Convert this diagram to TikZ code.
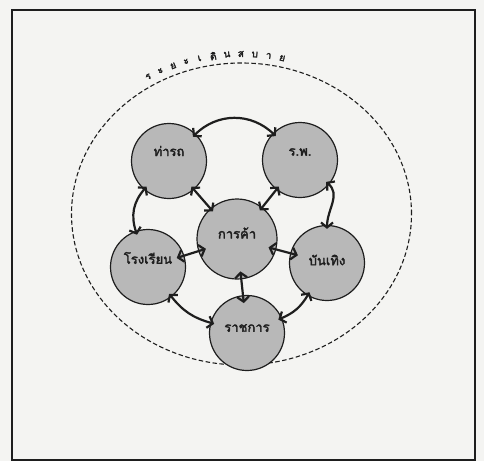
\documentclass[tikz,border=0pt]{standalone}
\usepackage{fontspec}
\newfontfamily\thaifont[Script=Thai,FakeBold=2.5]{Loma}
\usetikzlibrary{arrows.meta}
\definecolor{bgc}{RGB}{244,244,242}
\definecolor{cfill}{RGB}{184,184,184}
\definecolor{ink}{RGB}{30,30,30}
\begin{document}
\begin{tikzpicture}[x=1pt,y=-1pt,
  place/.style={circle,draw=ink,line width=1.2pt,fill=cfill,minimum size=75pt,inner sep=0pt},
  lbl/.style={inner sep=0pt,text=ink,font=\thaifont\fontsize{13}{15}\selectfont},
  arcl/.style={inner sep=0pt,text=ink,font=\thaifont\fontsize{10}{12}\selectfont},
  link/.style={line width=2.2pt,draw=ink,shorten <=-4pt,shorten >=-4pt,
    {Straight Barb[length=5pt,width=12pt]}-{Straight Barb[length=5pt,width=12pt]}},
  deep/.style={shorten <=-8pt,shorten >=-8pt}]
\useasboundingbox (0,0) rectangle (484,461);
\fill[bgc] (0,0) rectangle (484,461);
\draw[ink,line width=1.2pt] (12,10) rectangle (475,460);
\draw[ink,line width=1.1pt,dash pattern=on 4.5pt off 2.5pt] (241.5,214) ellipse [x radius=170pt, y radius=151pt];
\foreach \c [count=\i] in {ร,ะ,ย,ะ,เ,ดิ,น,ส,บ,า,ย} {
  \pgfmathsetmacro\t{121-(\i-1)*4.4}
  \node[arcl,rotate=\t-90] (a\i) at ({241.5+181*cos(\t)},{214-160*sin(\t)}) {\c};
}
\node[place] (bus) at (169,161) {};
\node[place] (hos) at (300,160) {};
\node[place,minimum size=80pt] (trade) at (237,239) {};
\node[place] (school) at (148,267) {};
\node[place] (ent) at (327,263) {};
\node[place] (gov) at (247,333) {};
\node[lbl] (busT) at ([yshift=10pt]bus.center) {ท่ารถ};
\node[lbl] (hosT) at ([yshift=8pt]hos.center) {ร.พ.};
\node[lbl] (tradeT) at ([yshift=6pt]trade.center) {การค้า};
\node[lbl] (schoolT) at ([yshift=9pt]school.center) {โรงเรียน};
\node[lbl] (entT) at ([yshift=3pt]ent.center) {บันเทิง};
\node[lbl] (govT) at ([yshift=5pt]gov.center) {ราชการ};
\draw[link] (bus) to[bend left=45] (hos);
\draw[link] (hos) to[out=-40,in=90] (ent);
\draw[link] (ent) to[bend left=18] (gov);
\draw[link] (gov) to[bend left=18] (school);
\draw[link] (school) to[bend left=30] (bus);
\draw[link] (trade) -- (bus);
\draw[link] (trade) -- (hos);
\draw[link,deep] (trade) -- (ent);
\draw[link,deep] (trade) -- (gov);
\draw[link,deep] (trade) -- (school);
\end{tikzpicture}
\end{document}
